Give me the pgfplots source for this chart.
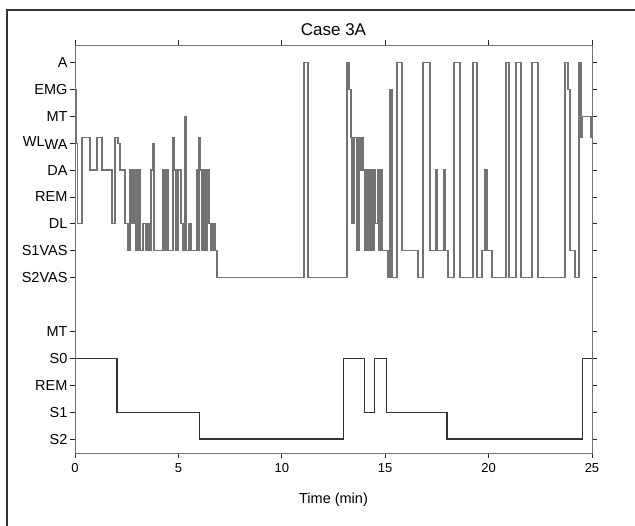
\documentclass[border=0pt]{standalone}
\usepackage{fontspec}
\setmainfont{Liberation Sans}
\usepackage{pgfplots}
\pgfplotsset{compat=1.18}

% levels: S2=0 S1=1 REM=2 S0=3 MT=4 | S2VAS=6 S1VAS=7 DL=8 REM=9 DA=10 WA=11 WL=11.2 MT=12 EMG=13 A=14
\begin{document}
\begin{tikzpicture}
\useasboundingbox (-75pt,-73pt) rectangle (560pt,453pt);
\draw[line width=1.2pt, black!80] (-68pt,-73pt) -- (-68pt,443pt) -- (560pt,443pt);
\begin{axis}[
  at={(0pt,0pt)}, anchor=south west,
  scale only axis, width=517pt, height=408pt,
  xmin=0, xmax=25, ymin=-0.52, ymax=14.65,
  xtick={0,5,10,15,20,25},
  ytick={0,1,2,3,4,6,7,8,9,10,11,12,13,14},
  yticklabels={S2,S1,REM,S0,MT,S2VAS,S1VAS,DL,REM,DA,{\raisebox{3pt}{WL}WA},MT,EMG,A},
  xtick pos=both, ytick pos=both,
  xticklabel pos=lower, yticklabel pos=left,
  tick align=outside, major tick length=5pt,
  tick style={black!85, line width=0.8pt},
  axis line style={black!55, line width=0.9pt},
  yticklabel style={font=\fontsize{14.5}{16}\selectfont, xshift=1pt},
  xticklabel style={font=\fontsize{13}{15}\selectfont, yshift=-2pt},
  xlabel={Time (min)},
  xlabel style={font=\fontsize{14.5}{16}\selectfont, yshift=-13pt},
  /pgf/number format/assume math mode=true,
]
% fine staging (upper panel)
\addplot[const plot, black!55, line width=1.3pt] coordinates {
(0,13) (0.07,11) (0.11,8) (0.34,11.2) (0.73,10) (1.06,11.2) (1.31,10) (1.79,8)
(1.93,11.2) (2.08,11) (2.18,10) (2.42,8) (2.56,7) (2.66,10) (2.76,8) (2.85,10)
(2.95,7) (3.05,10) (3.14,7) (3.29,8) (3.43,7) (3.53,8) (3.63,7) (3.68,10)
(3.77,11) (3.82,7) (4.26,10) (4.35,7) (4.45,10) (4.50,7) (4.74,11.2) (4.79,10)
(4.88,7) (4.98,10) (5.13,8) (5.22,7) (5.32,12) (5.37,7) (5.51,8) (5.61,7)
(5.90,10) (5.95,7) (6.00,11.2) (6.04,10) (6.14,7) (6.24,10) (6.33,7) (6.38,10)
(6.48,8) (6.58,7) (6.67,8) (6.77,7) (6.87,6)
(11.07,14) (11.27,6)
(13.15,14) (13.25,13) (13.35,11.2) (13.39,8) (13.49,11.2) (13.64,7) (13.73,11.2)
(13.83,10) (13.88,11.2) (13.93,10) (14.02,7) (14.12,10) (14.22,7) (14.31,10)
(14.41,7) (14.46,10) (14.51,8) (14.65,10) (14.70,7) (14.75,10) (14.85,7)
(15.14,6) (15.23,13) (15.33,6) (15.57,14) (15.81,7) (16.59,6) (16.83,14)
(17.17,7) (17.46,10) (17.50,7) (17.84,10) (17.89,7) (18.04,6) (18.33,14)
(18.62,6) (19.25,14) (19.44,6) (19.68,7) (19.83,10) (19.92,7) (20.16,6)
(20.84,14) (20.99,6) (21.33,14) (21.57,6) (22.10,14) (22.39,6) (23.69,14)
(23.84,13) (23.94,7) (24.18,6) (24.37,14) (24.47,11.2) (24.52,12) (24.95,11.2)
(25,11.2)
};
% coarse staging (lower panel)
\addplot[const plot, black!80, line width=1.1pt] coordinates {
(0,3) (2.03,1) (6.04,0) (13.0,3) (14.02,1) (14.5,3) (15.08,1) (17.99,0) (24.52,3) (25,3)
};
\end{axis}
\node[font=\fontsize{17}{19}\selectfont] at (258.5pt,423pt) {Case 3A};
\end{tikzpicture}
\end{document}
